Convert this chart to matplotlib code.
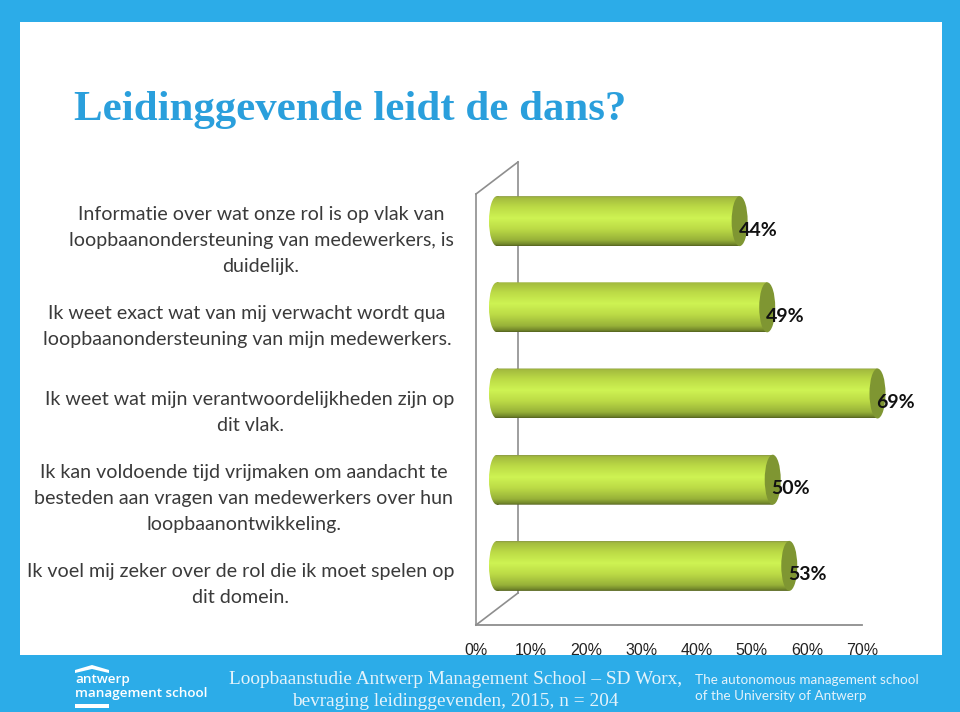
import numpy as np
import matplotlib.pyplot as plt
from matplotlib.colors import LinearSegmentedColormap
from matplotlib.patches import Rectangle, Ellipse, PathPatch, Polygon
from matplotlib.path import Path

W, H = 960, 712

title = "Leidinggevende leidt de dans?"
labels = [
    "Informatie over wat onze rol is op vlak van\nloopbaanondersteuning van medewerkers, is\nduidelijk.",
    "Ik weet exact wat van mij verwacht wordt qua\nloopbaanondersteuning van mijn medewerkers.",
    "Ik weet wat mijn verantwoordelijkheden zijn op\ndit vlak.",
    "Ik kan voldoende tijd vrijmaken om aandacht te\nbesteden aan vragen van medewerkers over hun\nloopbaanontwikkeling.",
    "Ik voel mij zeker over de rol die ik moet spelen op\ndit domein.",
]
values = [44, 49, 69, 50, 53]
xticks = [0, 10, 20, 30, 40, 50, 60, 70]

label_x_px = [261, 247, 250, 244, 241]

BLUE = "#2cace8"
GREY = "#8e8e8e"
TEXT = "#3a3a3a"


def fx(px):
    return px / W


def fy(py):
    return 1 - py / H


plt.rcParams["font.family"] = ["Lato", "DejaVu Sans"]
fig = plt.figure(figsize=(W / 100, H / 100), dpi=100, facecolor=BLUE)

# white slide, the blue footer goes over the tick labels
fig.add_artist(Rectangle((fx(20), fy(655)), fx(922), 633 / H, transform=fig.transFigure,
                         facecolor="white", edgecolor="none", zorder=-1))
fig.add_artist(Rectangle((0, 0), 1, 57 / H, transform=fig.transFigure,
                         facecolor=BLUE, edgecolor="none", zorder=5))

fig.text(fx(74), fy(110), title, family="Liberation Serif", weight="bold", fontsize=30.85,
         color="#2a9fdc", va="center", ha="left")

# axes = front plane of the 3d box
ax = fig.add_axes([fx(476), fy(625), fx(862 - 476), 431 / H])
ax.patch.set_alpha(0)
for side in ["top", "right", "left"]:
    ax.spines[side].set_visible(False)
ax.spines["bottom"].set_color(GREY)
ax.spines["bottom"].set_linewidth(1.3)

px_x = 386 / 70.0    # pixels per percent
px_y = 431 / 5.0     # pixels per category
depth_x = 42 / px_x
depth_y = 32 / px_y

# left wall and back edge
wall = dict(color=GREY, lw=1.2, clip_on=False, zorder=1)
ax.plot([0, 0], [-0.5, 4.5], **wall)
ax.plot([0, depth_x], [-0.5, -0.5 - depth_y], **wall)
ax.plot([0, depth_x], [4.5, 4.5 - depth_y], **wall)
ax.plot([depth_x, depth_x], [-0.5 - depth_y, 4.5 - depth_y], **wall)

# cylinder shading, top to bottom
shade = LinearSegmentedColormap.from_list("cyl", [
    (0.0, "#8d9c45"), (0.03, "#a3bb3e"), (0.22, "#bcdb46"), (0.44, "#cef353"),
    (0.66, "#bcdb46"), (0.88, "#98b239"), (0.97, "#71852a"), (1.0, "#55631f"),
])
grad = np.linspace(0, 1, 128).reshape(-1, 1)

half_h = 25 / px_y
half_w = 8 / px_x
for i, v in enumerate(values):
    x0 = depth_x / 2
    x1 = x0 + v
    yc = i - depth_y / 2
    im = ax.imshow(grad, cmap=shade, aspect="auto", zorder=2,
                   extent=[x0 - half_w, x1, yc + half_h, yc - half_h])
    box = Rectangle((x0, yc - half_h), v, 2 * half_h)
    end = Ellipse((x0, yc), 2 * half_w, 2 * half_h)
    body = Path.make_compound_path(box.get_path().transformed(box.get_patch_transform()),
                                   end.get_path().transformed(end.get_patch_transform()))
    clip = PathPatch(body, transform=ax.transData, facecolor="none", edgecolor="none")
    ax.add_patch(clip)
    # the 69% bar runs past the axes box
    im.set_clip_box(fig.bbox)
    im.set_clip_path(clip)
    ax.add_patch(Ellipse((x1, yc), 2 * half_w, 2 * half_h, facecolor="#7f9632",
                         edgecolor="none", zorder=3, clip_on=False))
    ax.text(x1 - 0.2, i + 9 / px_y - depth_y / 2, "%d%%" % v, weight="bold", fontsize=14,
            color="#111111", ha="left", va="center", zorder=4, clip_on=False)

ax.set_xlim(0, 70)
ax.set_ylim(4.5, -0.5)
ax.set_yticks([])
ax.set_xticks(xticks)
ax.set_xticklabels(["%d%%" % t for t in xticks], family="Liberation Sans", fontsize=11.5, color="#222222")
ax.tick_params(axis="x", length=0, pad=13)

# category labels, centred per block left of the chart
for i, lab in enumerate(labels):
    yp = ax.transData.transform((0, i))[1]
    fig.text(fx(label_x_px[i]), yp / H - 3 / H, lab, ha="center", va="center", multialignment="center",
             fontsize=14.15, color=TEXT, linespacing=1.64)

# footer
fig.text(fx(455.5), fy(680), "Loopbaanstudie Antwerp Management School – SD Worx,",
         family="Liberation Serif", fontsize=13.9, color="#e4f3fb", ha="center", va="center", zorder=6)
fig.text(fx(455.5), fy(701), "bevraging leidinggevenden, 2015, n = 204",
         family="Liberation Serif", fontsize=13.9, color="#e4f3fb", ha="center", va="center", zorder=6)
fig.text(fx(695), fy(680), "The autonomous management school", fontsize=9.7, color="#e4f3fb",
         ha="left", va="center", zorder=6)
fig.text(fx(695), fy(696), "of the University of Antwerp", fontsize=9.7, color="#e4f3fb",
         ha="left", va="center", zorder=6)

# logo
pts = [(75, 670), (92, 665), (109, 670), (109, 673), (92, 669), (75, 673)]
fig.add_artist(Polygon([(fx(a), fy(b)) for a, b in pts], transform=fig.transFigure,
                       facecolor="white", edgecolor="none", zorder=6))
fig.add_artist(Rectangle((fx(75), fy(708)), fx(34), 4 / H, transform=fig.transFigure,
                         facecolor="white", edgecolor="none", zorder=6))
fig.text(fx(75), fy(680), "antwerp", family="Open Sans", weight="semibold", fontsize=9.7, color="white",
         ha="left", va="center", zorder=6)
fig.text(fx(75), fy(693), "management school", family="Open Sans", weight="semibold", fontsize=9.7, color="white",
         ha="left", va="center", zorder=6)

fig.savefig("out.png", dpi=100, facecolor=BLUE)
